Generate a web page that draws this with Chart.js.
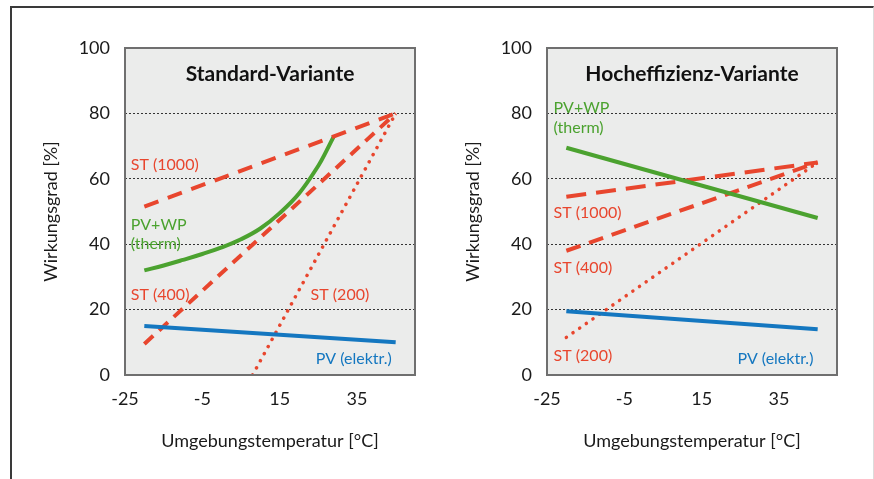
<!DOCTYPE html>
<html>
<head>
<meta charset="utf-8">
<script src="https://cdn.jsdelivr.net/npm/chart.js@4.4.0/dist/chart.umd.min.js"></script>
<style>
  html, body { margin: 0; padding: 0; background: #ffffff; }
  #wrap { position: relative; width: 874px; height: 479px; overflow: hidden; }
  #frame {
    position: absolute; left: 10px; top: 6px; width: 861px; height: 520px;
    border-top: 2px solid #3a3a3a; border-left: 2px solid #3a3a3a; border-right: 1px solid #dcdcdc;
  }
  canvas { position: absolute; top: 0; }
  #stdChart { left: 0; }
  #heChart { left: 437px; }
</style>
</head>
<body>
<div id="wrap">
  <div id="frame"></div>
  <canvas id="stdChart" width="437" height="479"></canvas>
  <canvas id="heChart" width="437" height="479"></canvas>
</div>
<script>
// Wirkungsgrad vs. Umgebungstemperatur

// shared axes
const tempTicks = [-25, -5, 15, 35];
const effTicks = [0, 20, 40, 60, 80, 100];
const lineX = [-20, 45];

// Standard-Variante
const stdPV = [15, 10];
const stdST1000 = [51.5, 80];
const stdST400 = [9.5, 80];
const stdST200X = [8, 45];
const stdST200 = [0, 80];
const stdPVWPX = [-20, -15, -10, -5, 0, 5, 10, 15, 20, 25, 27, 29];
const stdPVWP = [32, 33.5, 35.2, 37, 39, 41.5, 44.8, 49.5, 55.5, 64, 68.3, 73];

// Hocheffizienz-Variante
const hePV = [19.5, 14];
const hePVWP = [69.5, 48];
const heST1000 = [54.5, 65];
const heST400 = [38, 65];
const heST200 = [11.5, 65];

const RED = '#e8462e';
const GREEN = '#4ba22f';
const BLUE = '#1477c0';
const FONT = 'Lato, "Noto Sans", sans-serif';

function pts(xs, ys) {
    return xs.map((x, i) => ({ x: x, y: ys[i] }));
}

// grey plot box, title and in-plot labels
const panelPlugin = {
    id: 'panel',
    beforeDraw(chart) {
        const a = chart.chartArea;
        const ctx = chart.ctx;
        ctx.save();
        ctx.fillStyle = '#ebeceb';
        ctx.fillRect(a.left, a.top, a.right - a.left, a.bottom - a.top);
        ctx.restore();
    },
    afterDatasetsDraw(chart, args, opts) {
        const a = chart.chartArea;
        const ctx = chart.ctx;
        const xs = chart.scales.x;
        const ys = chart.scales.y;
        ctx.save();
        ctx.strokeStyle = '#6f6f6f';
        ctx.lineWidth = 2;
        ctx.strokeRect(a.left, a.top, a.right - a.left, a.bottom - a.top);

        ctx.fillStyle = '#111';
        ctx.font = 'bold 21px ' + FONT;
        ctx.textAlign = 'center';
        ctx.textBaseline = 'middle';
        ctx.fillText(opts.title, (a.left + a.right) / 2, a.top + 26);

        ctx.font = '16px ' + FONT;
        (opts.notes || []).forEach(n => {
            ctx.fillStyle = n.color;
            ctx.textAlign = n.align || 'left';
            ctx.fillText(n.text, xs.getPixelForValue(n.x), ys.getPixelForValue(n.y));
        });
        ctx.restore();
    }
};

function buildOptions(yWidth, padRight, titlePad, title, notes) {
    return {
        responsive: false,
        animation: false,
        layout: { padding: { left: 0, top: 48, right: padRight, bottom: 0 } },
        elements: { point: { radius: 0 } },
        plugins: {
            legend: { display: false },
            tooltip: { enabled: false },
            panel: { title: title, notes: notes }
        },
        scales: {
            x: {
                type: 'linear',
                min: -25,
                max: 50,
                afterBuildTicks: (s) => { s.ticks = tempTicks.map(v => ({ value: v })); },
                afterFit: (s) => { s.height = 104; },
                grid: { display: false, drawTicks: false },
                border: { display: false },
                ticks: { color: '#1a1a1a', font: { family: FONT, size: 18 }, padding: 13, maxRotation: 0 },
                title: {
                    display: true,
                    text: 'Umgebungstemperatur [°C]',
                    color: '#1a1a1a',
                    font: { family: FONT, size: 18 },
                    padding: { top: 0, bottom: 27 }
                }
            },
            y: {
                min: 0,
                max: 100,
                afterBuildTicks: (s) => { s.ticks = effTicks.map(v => ({ value: v })); },
                afterFit: (s) => { s.width = yWidth; },
                grid: {
                    drawTicks: false,
                    lineWidth: 1,
                    color: (c) => (c.tick && (c.tick.value === 0 || c.tick.value === 100)) ? 'rgba(0,0,0,0)' : '#333'
                },
                border: { display: false, dash: [2, 2] },
                ticks: { color: '#1a1a1a', font: { family: FONT, size: 18 }, padding: 15 },
                title: {
                    display: true,
                    text: 'Wirkungsgrad [%]',
                    color: '#1a1a1a',
                    font: { family: FONT, size: 18 },
                    padding: { top: titlePad, bottom: 0 }
                }
            }
        }
    };
}

function solid(data, color) {
    return { data: data, borderColor: color, borderWidth: 4, borderCapStyle: 'butt', fill: false, tension: 0 };
}
function dashed(data, dash) {
    return { data: data, borderColor: RED, borderWidth: 4, borderDash: dash, borderCapStyle: 'butt', fill: false };
}
function dotted(data) {
    return { data: data, borderColor: RED, borderWidth: 3.5, borderDash: [0.1, 8], borderCapStyle: 'round', fill: false };
}

const stdNotes = [
    { text: 'ST (1000)', x: -23.5, y: 64.2, color: RED },
    { text: 'PV+WP', x: -23.5, y: 45.9, color: GREEN },
    { text: '(therm)', x: -23.5, y: 40.1, color: GREEN },
    { text: 'ST (400)', x: -23.5, y: 24.5, color: RED },
    { text: 'ST (200)', x: 23, y: 24.5, color: RED },
    { text: 'PV (elektr.)', x: 44, y: 4.9, color: BLUE, align: 'right' }
];

const heNotes = [
    { text: 'PV+WP', x: -23.3, y: 81.7, color: GREEN },
    { text: '(therm)', x: -23.3, y: 75.6, color: GREEN },
    { text: 'ST (1000)', x: -23.3, y: 49.5, color: RED },
    { text: 'ST (400)', x: -23.3, y: 32.7, color: RED },
    { text: 'ST (200)', x: -23.3, y: 5.8, color: RED },
    { text: 'PV (elektr.)', x: 43.9, y: 4.9, color: BLUE, align: 'right' }
];

new Chart(document.getElementById('stdChart'), {
    type: 'line',
    data: {
        datasets: [
            solid(pts(lineX, stdPV), BLUE),
            dashed(pts(lineX, stdST1000), [15, 10]),
            dashed(pts(lineX, stdST400), [12, 8]),
            dotted(pts(stdST200X, stdST200)),
            Object.assign(solid(pts(stdPVWPX, stdPVWP), GREEN), { tension: 0.4 })
        ]
    },
    options: buildOptions(125, 22, 40, 'Standard-Variante', stdNotes),
    plugins: [panelPlugin]
});

new Chart(document.getElementById('heChart'), {
    type: 'line',
    data: {
        datasets: [
            solid(pts(lineX, hePV), BLUE),
            solid(pts(lineX, hePVWP), GREEN),
            dashed(pts(lineX, heST1000), [20, 10]),
            dashed(pts(lineX, heST400), [15, 9]),
            dotted(pts(lineX, heST200))
        ]
    },
    options: buildOptions(110, 37, 25, 'Hocheffizienz-Variante', heNotes),
    plugins: [panelPlugin]
});
</script>
</body>
</html>
